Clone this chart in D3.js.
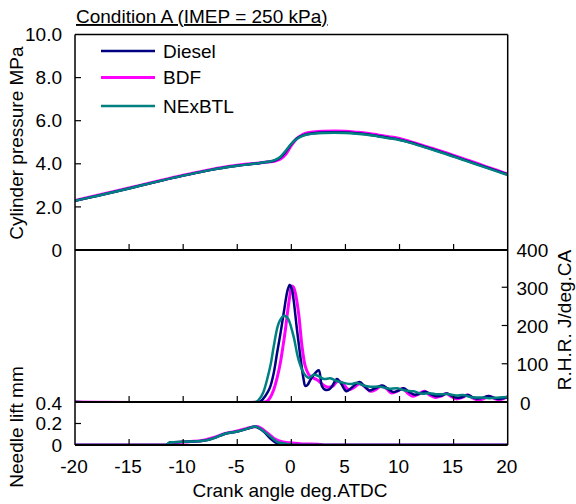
<!DOCTYPE html>
<html>
<head>
<meta charset="utf-8">
<script src="https://cdn.jsdelivr.net/npm/d3@7"></script>
<style>
  body { margin: 0; background: #fff; }
  svg { display: block; font-family: "Liberation Sans", Arial, sans-serif; }
  .lbl { font-size: 19px; fill: #000; }
</style>
</head>
<body>
<svg width="576" height="504"></svg>
<script>
// Series names and colours
const fuels = ["Diesel", "BDF", "NExBTL"];
const colors = {Diesel: "#000080", BDF: "#ff00ff", NExBTL: "#008080"};
const drawOrder = ["BDF", "Diesel", "NExBTL"];

// Cylinder pressure (MPa) on a shared crank angle grid
const pressCA = [-20, -18, -16, -14, -12, -10, -8, -6, -5, -4, -3, -2.5, -2, -1.5, -1, -0.5, 0, 0.5, 1, 1.5, 2, 2.5, 3, 4, 5, 6, 7, 8, 9, 10, 11, 12, 13, 14, 15, 16, 17, 18, 19, 20];
const pressDiesel = [2.28, 2.51, 2.74, 2.98, 3.22, 3.45, 3.66, 3.84, 3.91, 3.97, 4.03, 4.07, 4.10, 4.16, 4.30, 4.58, 4.92, 5.17, 5.31, 5.38, 5.42, 5.44, 5.45, 5.46, 5.45, 5.42, 5.37, 5.29, 5.21, 5.12, 4.99, 4.84, 4.68, 4.52, 4.35, 4.18, 4.01, 3.84, 3.67, 3.50];
const pressBDF = [2.30, 2.53, 2.76, 3.00, 3.24, 3.47, 3.68, 3.86, 3.93, 3.99, 4.04, 4.07, 4.09, 4.13, 4.22, 4.45, 4.85, 5.17, 5.35, 5.44, 5.48, 5.50, 5.51, 5.52, 5.51, 5.47, 5.42, 5.34, 5.26, 5.17, 5.03, 4.88, 4.72, 4.56, 4.39, 4.22, 4.05, 3.87, 3.70, 3.52];
const pressNExBTL = [2.28, 2.51, 2.74, 2.98, 3.22, 3.45, 3.66, 3.84, 3.91, 3.97, 4.03, 4.07, 4.11, 4.18, 4.33, 4.62, 4.93, 5.15, 5.29, 5.36, 5.40, 5.42, 5.43, 5.44, 5.43, 5.40, 5.35, 5.27, 5.19, 5.10, 4.97, 4.82, 4.66, 4.50, 4.33, 4.16, 3.99, 3.82, 3.65, 3.48];

// Rate of heat release (J/deg.CA), [crank angle, value]
const rhrDiesel = [[-20,0],[-3.0,0],[-2.56,10],[-2.2,25],[-1.94,41],[-1.6,80],[-1.32,128],[-1.0,180],[-0.71,232],[-0.34,293],[-0.15,306],[0.05,295],[0.21,267],[0.52,189],[0.83,119],[1.14,58],[1.29,42],[1.5,45],[1.76,58],[2.22,76],[2.53,83],[2.84,41],[3.14,32],[3.5,33],[3.76,41],[4.22,60],[4.6,48],[5.1,28],[5.6,38],[6.3,52],[6.8,40],[7.2,30],[7.7,35],[8.4,43],[8.9,35],[9.4,26],[9.9,30],[10.4,36],[10.9,26],[11.4,19],[11.9,22],[12.4,27],[12.9,20],[13.4,15],[13.9,17],[14.4,22],[14.9,15],[15.4,11],[15.9,14],[16.3,18],[16.8,12],[17.3,9],[17.8,12],[18.2,16],[18.7,11],[19.2,8],[19.6,10],[20,12]];
const rhrBDF = [[-20,0],[-2.6,0],[-2.25,2],[-1.95,12],[-1.63,32],[-1.3,65],[-1.02,102],[-0.75,150],[-0.55,189],[-0.35,235],[-0.15,276],[0.03,303],[0.2,300],[0.37,285],[0.67,232],[0.99,145],[1.29,93],[1.6,72],[1.76,67],[2.37,58],[2.8,48],[3.3,39],[3.8,41],[4.28,54],[4.7,50],[5.3,32],[5.8,38],[6.3,48],[6.8,40],[7.3,28],[7.8,32],[8.3,42],[8.8,35],[9.2,24],[9.7,27],[10.3,35],[10.8,22],[11.2,15],[11.7,20],[12.3,28],[12.8,18],[13.3,12],[13.8,15],[14.3,22],[14.8,14],[15.3,8],[15.8,12],[16.3,18],[16.8,10],[17.3,5],[17.8,9],[18.3,15],[18.8,9],[19.2,5],[19.6,9],[20,14]];
const rhrNExBTL = [[-20,0],[-3.3,0],[-3.0,6],[-2.6,25],[-2.25,58],[-1.9,100],[-1.63,145],[-1.17,206],[-0.71,225],[-0.45,223],[-0.25,215],[0.21,171],[0.67,110],[1.14,76],[1.6,63],[2.06,71],[2.5,68],[3.0,60],[3.6,62],[4.2,55],[4.84,50],[5.5,47],[6.07,50],[6.7,43],[7.3,40],[8.2,40],[9.0,35],[9.8,36],[10.5,30],[11.3,28],[12.0,22],[12.8,23],[13.5,20],[14.4,21],[15.2,17],[15.9,18],[16.7,12],[17.5,12],[18.3,10],[19.2,12],[20,13]];

// Needle lift (mm), [crank angle, value]
const liftDiesel = [[-20,0],[-11.6,0],[-11.2,0.025],[-9.95,0.03],[-8.1,0.04],[-7,0.07],[-6.26,0.10],[-5.0,0.125],[-4.1,0.15],[-3.4,0.17],[-2.56,0.125],[-1.94,0.06],[-1.32,0.015],[-0.8,0],[20,0]];
const liftBDF = [[-20,0],[-11,0],[-10.5,0.02],[-9.5,0.03],[-8.1,0.045],[-7,0.075],[-6.2,0.105],[-5.0,0.13],[-4.1,0.155],[-3.2,0.172],[-2.25,0.115],[-1.63,0.063],[-0.87,0.03],[-0.1,0.02],[1,0.01],[2.5,0.008],[3,0],[20,0]];
const liftNExBTL = [[-20,0],[-11.6,0],[-11.2,0.025],[-9.95,0.03],[-8.1,0.04],[-7,0.07],[-6.26,0.10],[-5.0,0.125],[-4.1,0.15],[-3.33,0.172],[-2.71,0.14],[-1.94,0.078],[-1.32,0.03],[-0.7,0.015],[-0.1,0.005],[0.5,0],[20,0]];

// Ticks
const caTicks = [-20, -15, -10, -5, 0, 5, 10, 15, 20];
const pressTicks = [0, 2, 4, 6, 8, 10];
const rhrTicks = [0, 100, 200, 300, 400];
const liftTicks = [0, 0.2, 0.4];

const svg = d3.select("svg");
const L = 75, R = 507.7;

const x = d3.scaleLinear().domain([-20, 20]).range([L, R]);
const yP = d3.scaleLinear().domain([0, 10]).range([250, 34.5]);
const yR = d3.scaleLinear().domain([0, 400]).range([402, 249]);
const yN = d3.scaleLinear().domain([0, 0.4]).range([445, 402]);

// clip regions for each panel
const defs = svg.append("defs");
[["clipP", 34.5, 250], ["clipR", 200, 402], ["clipN", 402, 445]].forEach(([id, y0, y1]) => {
    defs.append("clipPath").attr("id", id)
        .append("rect").attr("x", L).attr("y", y0).attr("width", R - L).attr("height", y1 - y0);
});

const pressure = {Diesel: pressDiesel, BDF: pressBDF, NExBTL: pressNExBTL};
const rhr = {Diesel: rhrDiesel, BDF: rhrBDF, NExBTL: rhrNExBTL};
const lift = {Diesel: liftDiesel, BDF: liftBDF, NExBTL: liftNExBTL};
const widths = {Diesel: 2.5, BDF: 3, NExBTL: 2.5};

// Pressure curves
const pLine = d3.line().x((d, i) => x(pressCA[i])).y(d => yP(d)).curve(d3.curveMonotoneX);
const gP = svg.append("g").attr("clip-path", "url(#clipP)");
drawOrder.forEach(f => {
    gP.append("path").attr("d", pLine(pressure[f]))
        .attr("fill", "none").attr("stroke", colors[f]).attr("stroke-width", widths[f])
        .attr("stroke-linejoin", "round");
});

// R.H.R. curves
const rLine = d3.line().x(d => x(d[0])).y(d => yR(d[1])).curve(d3.curveCatmullRom.alpha(0.5));
const gR = svg.append("g").attr("clip-path", "url(#clipR)");
drawOrder.forEach(f => {
    gR.append("path").attr("d", rLine(rhr[f]))
        .attr("fill", "none").attr("stroke", colors[f]).attr("stroke-width", widths[f])
        .attr("stroke-linejoin", "round");
});

// Needle lift curves
const nLine = d3.line().x(d => x(d[0])).y(d => yN(d[1])).curve(d3.curveMonotoneX);
const gN = svg.append("g").attr("clip-path", "url(#clipN)");
drawOrder.forEach(f => {
    gN.append("path").attr("d", nLine(lift[f]))
        .attr("fill", "none").attr("stroke", colors[f]).attr("stroke-width", widths[f])
        .attr("stroke-linejoin", "round");
});

// Frame lines
const frame = svg.append("g").attr("stroke", "#000").attr("fill", "none");
frame.append("line").attr("x1", L).attr("x2", R).attr("y1", 34.5).attr("y2", 34.5).attr("stroke-width", 1.5);
frame.append("line").attr("x1", L).attr("x2", L).attr("y1", 34.5).attr("y2", 445).attr("stroke-width", 1.5);
frame.append("line").attr("x1", R).attr("x2", R).attr("y1", 34.5).attr("y2", 445).attr("stroke-width", 1.5);
[250, 402, 445].forEach(yy => {
    frame.append("line").attr("x1", L).attr("x2", R).attr("y1", yy).attr("y2", yy).attr("stroke-width", 2);
});

// Inside x ticks at the bottom of each panel
const innerCa = caTicks.filter(t => t > -20 && t < 20);
[250, 402, 445].forEach(yy => {
    frame.selectAll(null).data(innerCa).enter().append("line")
        .attr("x1", d => x(d)).attr("x2", d => x(d))
        .attr("y1", yy).attr("y2", yy - 6).attr("stroke-width", 1.2);
});

// Left ticks (pressure, lift) and right ticks (R.H.R.)
frame.selectAll(null).data(pressTicks.filter(t => t > 0 && t < 10)).enter().append("line")
    .attr("x1", L).attr("x2", L + 6).attr("y1", d => yP(d)).attr("y2", d => yP(d)).attr("stroke-width", 1.2);
frame.selectAll(null).data([0.2]).enter().append("line")
    .attr("x1", L).attr("x2", L + 6).attr("y1", d => yN(d)).attr("y2", d => yN(d)).attr("stroke-width", 1.2);
frame.selectAll(null).data(rhrTicks.filter(t => t > 0 && t < 400)).enter().append("line")
    .attr("x1", R).attr("x2", R - 6).attr("y1", d => yR(d)).attr("y2", d => yR(d)).attr("stroke-width", 1.2);

// Tick labels
svg.selectAll(null).data(pressTicks).enter().append("text").attr("class", "lbl")
    .attr("x", 62).attr("y", d => yP(d)).attr("dy", "0.35em").attr("text-anchor", "end")
    .text(d => d === 0 ? "0" : d.toFixed(1));
svg.selectAll(null).data(liftTicks).enter().append("text").attr("class", "lbl")
    .attr("x", 62).attr("y", d => yN(d) + (d === 0.4 ? 1 : 0)).attr("dy", "0.35em").attr("text-anchor", "end")
    .text(d => d === 0 ? "0" : d.toFixed(1));
svg.selectAll(null).data(rhrTicks).enter().append("text").attr("class", "lbl")
    .attr("x", d => d === 0 ? 520 : 516.5).attr("y", d => yR(d) + 1).attr("dy", "0.35em").attr("text-anchor", "start")
    .text(d => d);
svg.selectAll(null).data(caTicks).enter().append("text").attr("class", "lbl")
    .attr("x", d => x(d) - 1).attr("y", 466).attr("dy", "0.35em").attr("text-anchor", "middle")
    .text(d => d);

// Axis titles
svg.append("text").attr("class", "lbl").attr("text-anchor", "middle")
    .attr("transform", "translate(23,143) rotate(-90)").text("Cylinder pressure MPa");
svg.append("text").attr("class", "lbl").attr("text-anchor", "middle")
    .attr("transform", "translate(23,427) rotate(-90)").text("Needle lift mm");
svg.append("text").attr("class", "lbl").attr("text-anchor", "middle")
    .attr("transform", "translate(571,320) rotate(-90)").text("R.H.R. J/deg.CA");
svg.append("text").attr("class", "lbl").attr("text-anchor", "middle")
    .attr("x", 290).attr("y", 497).text("Crank angle deg.ATDC");

// Title
svg.append("text").attr("class", "lbl").attr("x", 76).attr("y", 23)
    .style("text-decoration", "underline").text("Condition A (IMEP = 250 kPa)");

// Legend
const legY = [51, 77.5, 106];
fuels.forEach((f, i) => {
    svg.append("line").attr("x1", 101).attr("x2", 155).attr("y1", legY[i]).attr("y2", legY[i])
        .attr("stroke", colors[f]).attr("stroke-width", widths[f]);
    svg.append("text").attr("class", "lbl").attr("x", 163).attr("y", legY[i]).attr("dy", "0.35em").text(f);
});
</script>
</body>
</html>
